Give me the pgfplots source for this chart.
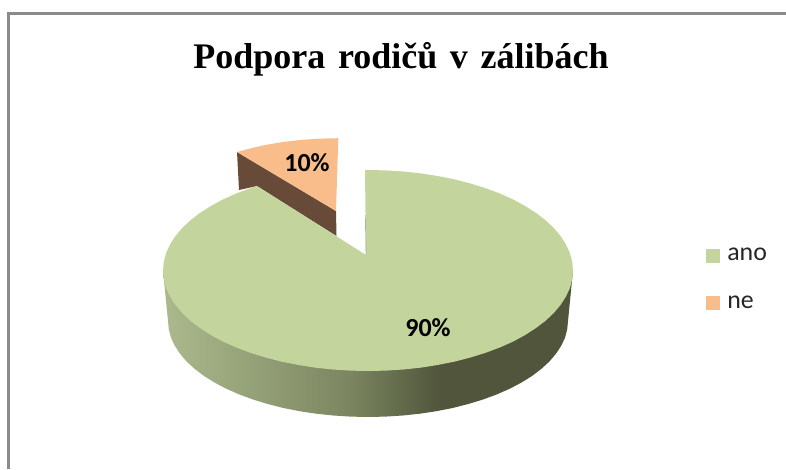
\documentclass[border=0pt]{standalone}
\usepackage{fontspec}
\setmainfont{Carlito}
\newfontfamily\titlefont{Liberation Serif}
\usepackage{pgfplots}
\pgfplotsset{compat=1.18}

\definecolor{anocol}{HTML}{C3D49C}
\definecolor{necol}{HTML}{F8BD8B}
\definecolor{necut}{HTML}{674B38}
\definecolor{framecol}{HTML}{8A8A8A}
\definecolor{sidea}{HTML}{ACB98D}
\definecolor{sideb}{HTML}{7B8660}
\definecolor{sidec}{HTML}{50553C}
% 25bp..75bp of the shading spans the side wall from x=163 to x=573
\pgfdeclarehorizontalshading{pieside}{100bp}{
  color(0bp)=(sidea); color(25bp)=(sidea); color(47.8bp)=(sideb);
  color(58.8bp)=(sidec); color(100bp)=(sidec)}

\begin{document}
\begin{tikzpicture}
\begin{axis}[
    scale only axis,
    width=589.5pt,
    height=351.75pt,
    xmin=0, xmax=786,
    ymin=0, ymax=469,
    y dir=reverse,
    hide axis,
    reverse legend,
    legend image code/.code={\path[#1] (0pt,-5.25pt) rectangle (10.5pt,5.25pt);},
    legend style={
        at={(axis cs:706,279.5)}, anchor=west,
        draw=none, fill=none, inner sep=0pt, outer sep=0pt,
        font={\fontsize{19.4pt}{22pt}\selectfont\color{black!85}},
        row sep=25pt,
        nodes={inner sep=0pt, outer sep=0pt},
        /tikz/every odd column/.style={column sep=5.5pt},
    },
    legend cell align=left,
]
\path[use as bounding box] (axis cs:0,0) rectangle (axis cs:786,469);

% chart frame, only top and left are in the crop
\addplot[draw=framecol, line width=1.9pt, forget plot] coordinates {
    (8.5,469) (8.5,13.5) (786,13.5)
};

% side wall of the big slice
\addplot[draw=none, shade, shading=pieside, forget plot] coordinates {
    (573,270.5) (568,321) (567.2,329.4) (565,337.7) (561.2,345.8) (555.9,353.8)
    (549.3,361.6) (541.2,369) (531.8,376.1) (521.2,382.7) (509.4,388.9) (496.6,394.5)
    (482.7,399.6) (468,404.1) (452.5,408) (436.4,411.2) (419.8,413.7) (402.7,415.5)
    (385.4,416.6) (368,417) (350.6,416.6) (333.3,415.5) (316.2,413.7) (299.6,411.2)
    (283.5,408) (268,404.1) (253.3,399.6) (239.4,394.5) (226.6,388.9) (214.8,382.7)
    (204.2,376.1) (194.8,369) (186.7,361.6) (180.1,353.8) (174.8,345.8) (171,337.7)
    (168.8,329.4) (168,321) (163,270.5)
};

% cut face of the pulled out slice
\addplot[draw=none, fill=necut, forget plot] coordinates {
    (237,152) (336,211) (336.5,236) (257,186) (239,190) (237,152)
};

% ne, 10 %
\addplot[draw=none, fill=necol] coordinates {
    (237,152) (250,148.5) (265,145) (283,142) (300,140) (320,138.6) (338.3,138.2)
    (336,211) (237,152)
};
\addlegendentry{ne}

% ano, 90 %
\addplot[draw=none, fill=anocol] coordinates {
    (365,170) (368,170) (385.9,170.4) (403.6,171.5) (421.1,173.4) (438.1,176.1) (454.6,179.4)
    (470.5,183.5) (485.6,188.2) (499.8,193.5) (513,199.4) (525,205.9) (535.9,212.9)
    (545.5,220.2) (553.8,228) (560.6,236.1) (566,244.5) (569.9,253) (572.2,261.7)
    (573,270.5) (572.2,279.3) (569.9,288) (566,296.5) (560.6,304.9) (553.8,313)
    (545.5,320.8) (535.9,328.1) (525,335.1) (513,341.6) (499.8,347.5) (485.6,352.8)
    (470.5,357.5) (454.6,361.6) (438.1,364.9) (421.1,367.6) (403.6,369.5) (385.9,370.6)
    (368,371) (350.1,370.6) (332.4,369.5) (314.9,367.6) (297.9,364.9) (281.4,361.6)
    (265.5,357.5) (250.4,352.8) (236.2,347.5) (223,341.6) (211,335.1) (200.1,328.1)
    (190.5,320.8) (182.2,313) (175.4,304.9) (170,296.5) (166.1,288) (163.8,279.3)
    (163,270.5) (163.8,261.7) (166.1,253) (170,244.5) (175.4,236.1) (182.2,228)
    (190.5,220.2) (200.1,212.9) (211,205.9) (223,199.4) (236.2,193.5) (250.4,188.2)
    (257,186) (366,255) (365,170)
};
\addlegendentry{ano}

\addplot[draw=sidec, line width=0.3pt, opacity=0.6, forget plot] coordinates {(365.5,215) (366,255)};

\node[font={\fontsize{19.5pt}{22pt}\selectfont\bfseries}] at (axis cs:307,163) {10\%};
\node[font={\fontsize{19.5pt}{22pt}\selectfont\bfseries}] at (axis cs:428,328) {90\%};
\node[anchor=base, inner sep=0pt, font={\titlefont\fontsize{27pt}{30pt}\selectfont\bfseries}]
    at (axis cs:401,68) {Podpora\hspace{0.35em}rodičů\hspace{0.35em}v\hspace{0.35em}zálibách};
\end{axis}
\end{tikzpicture}
\end{document}
